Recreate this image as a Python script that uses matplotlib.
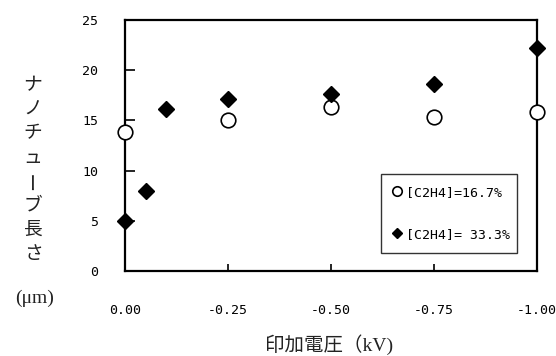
import matplotlib
matplotlib.use("Agg")
import matplotlib.pyplot as plt

plt.rcParams['axes.unicode_minus'] = False

# Data
voltage_a = [0.00, -0.25, -0.50, -0.75, -1.00]
length_a = [13.8, 15.0, 16.3, 15.3, 15.8]
label_a = "[C2H4]=16.7%"

voltage_b = [0.00, -0.05, -0.10, -0.25, -0.50, -0.75, -1.00]
length_b = [5.0, 8.0, 16.1, 17.1, 17.6, 18.6, 22.2]
label_b = "[C2H4]= 33.3%"

xticks = [0.00, -0.25, -0.50, -0.75, -1.00]
xticklabels = ["0.00", "-0.25", "-0.50", "-0.75", "-1.00"]
yticks = [0, 5, 10, 15, 20, 25]
ylabel_chars = list("ナノチューブ長さ")
ylabel_unit = "(μm)"
xlabel = "印加電圧（kV)"

W, H = 556, 356
fig = plt.figure(figsize=(W / 100, H / 100), dpi=100)
ax = fig.add_axes([125 / W, (H - 271) / H, 412 / W, 251 / H])

ax.plot(voltage_a, length_a, linestyle='none', marker='o', markersize=10.5,
        markerfacecolor='white', markeredgecolor='black', markeredgewidth=1.2,
        clip_on=False, zorder=3, label=label_a)
ax.plot(voltage_b, length_b, linestyle='none', marker='D', markersize=8.2,
        markerfacecolor='black', markeredgecolor='black',
        clip_on=False, zorder=4, label=label_b)

ax.set_xlim(0, -1)
ax.set_ylim(0, 25)
ax.set_xticks(xticks)
ax.set_xticklabels(xticklabels)
ax.set_yticks(yticks)

mono = 'DejaVu Sans Mono'
for lab in ax.get_xticklabels() + ax.get_yticklabels():
    lab.set_fontfamily(mono)
    lab.set_fontsize(9.5)

ax.tick_params(axis='x', direction='in', length=5, width=1.2, pad=24)
ax.tick_params(axis='y', direction='in', length=7, width=1.2, pad=19.5)
for s in ax.spines.values():
    s.set_linewidth(1.6)

leg = ax.legend(loc='lower left', bbox_to_anchor=(0.621, 0.072, 0.33, 0.31),
                mode='expand', frameon=True, fancybox=False, edgecolor='black',
                prop={'family': mono, 'size': 9.5}, markerscale=0.65,
                handlelength=0.6, handletextpad=0.4, labelspacing=2.2,
                borderpad=0.9, borderaxespad=0)
leg.get_frame().set_linewidth(1.0)

# vertical y-label, one character per line
jp = ['Noto Sans CJK JP']
for i, ch in enumerate(ylabel_chars):
    y = 85 + 24 * i
    rot = 90 if ch == 'ー' else 0
    fig.text(33 / W, 1 - y / H, ch, ha='center', va='center', fontsize=13.5,
             family=jp, rotation=rot, color='#222222')
fig.text(35 / W, 1 - 298 / H, ylabel_unit, ha='center', va='center', fontsize=14,
         family=['Liberation Serif', 'Noto Sans CJK JP'], color='#222222')

fig.text(329 / W, 1 - 345 / H, xlabel, ha='center', va='center', fontsize=14,
         family=['Liberation Serif', 'Noto Sans CJK JP'], color='#222222')

fig.savefig('out.png', dpi=100)
